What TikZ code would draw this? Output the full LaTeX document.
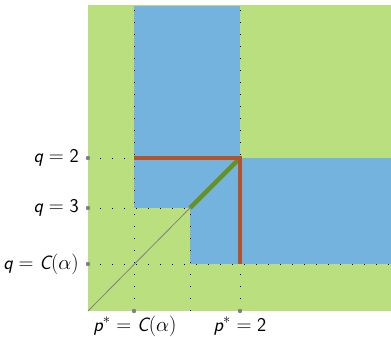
\documentclass[tikz,border=0pt]{standalone}
\definecolor{areagreen}{RGB}{186,223,126}
\definecolor{areablue}{RGB}{116,179,221}
\definecolor{pathbrown}{RGB}{178,84,44}
\definecolor{pathgreen}{RGB}{104,146,32}
\tikzset{
  guide/.style={black, line width=0.9pt, dash pattern=on 0.9pt off 11.1pt},
  axislabel/.style={font=\fontsize{19.5}{22}\selectfont\sffamily, inner sep=2pt},
}
\newcommand{\sv}[1]{\textit{#1}}
\begin{document}
\begin{tikzpicture}[x=1pt,y=1pt]
    \useasboundingbox (0,0) rectangle (391,337);
    % regions
    \fill[areagreen] (88,26) rectangle (391,332);
    \fill[areablue] (134,129) rectangle (240,331);
    \fill[areablue] (190,73) rectangle (391,179);

    % dotted guides
    \draw[guide] (88,179) -- (240,179);
    \draw[guide] (88,129) -- (190,129);
    \draw[guide] (88,73) -- (391,73);
    \foreach \x in {134,240} {
        \draw[guide] (\x,26) -- (\x,331);
    }
    \draw[guide] (190,26) -- (190,129);

    % diagonal and paths
    \coordinate (corner) at (88,26);
    \coordinate (kink) at (190,129);
    \coordinate (top) at (240,179);
    \draw[gray, line width=0.8pt] (corner) -- (kink);
    \draw[pathgreen, line width=4.5pt] (kink) -- (top);
    \draw[pathbrown, line width=4.5pt] (134,179) -- (top) -- (240,73);

    % tick points
    \foreach \y in {179,129,73} {
        \fill[gray] (88,\y) circle[radius = 2.2pt];
    }
    \foreach \x in {134,240} {
        \fill[gray] (\x,26) circle[radius = 2.2pt];
    }

    % labels
    \node[axislabel, anchor=east] (q2) at (81,179) {$\sv{q} = \mbox{2}$};
    \node[axislabel, anchor=east] (q3) at (81,129) {$\sv{q} = \mbox{3}$};
    \node[axislabel, anchor=east] (qC) at (81,73) {$\sv{q} = \sv{C}(\alpha)$};
    \node[axislabel] (pC) at (135,11) {$\sv{p}^* = \sv{C}(\alpha)$};
    \node[axislabel] (p2) at (240,11) {$\sv{p}^* = \mbox{2}$};
\end{tikzpicture}
\end{document}
